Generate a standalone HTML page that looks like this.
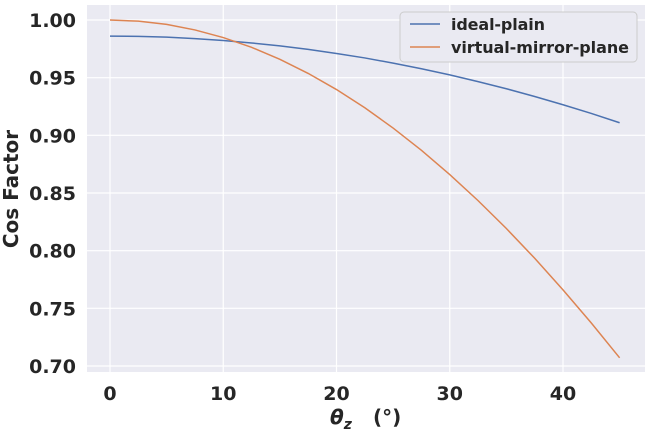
<!DOCTYPE html>
<html><head><meta charset="utf-8">
<style>
body{margin:0;background:#fff;}
svg{display:block;font-family:"DejaVu Sans","Liberation Sans",sans-serif;}
</style></head>
<body>
<svg id="chart" width="648" height="432" viewBox="0 0 648 432" xmlns="http://www.w3.org/2000/svg">
<rect x="87" y="5" width="558" height="367" fill="#eaeaf2"/>
<g id="grid"></g>
<g id="series"></g>
<g id="ticks"></g>
<text transform="translate(18,189) rotate(-90)" text-anchor="middle" font-size="20" font-weight="bold" fill="#262626">Cos Factor</text>
<text x="330" y="424" font-size="20" font-weight="bold" fill="#262626"><tspan font-style="italic">θ</tspan><tspan font-style="italic" font-size="14" dy="5">z</tspan><tspan dy="-5" x="373">(°)</tspan></text>
<g>
<rect x="400" y="12" width="237" height="50" rx="4" fill="#eaeaf2" stroke="#cccccc" stroke-width="1"/>
<line x1="410" y1="24" x2="440" y2="24" stroke="#4c72b0" stroke-width="1.5"/>
<text x="451" y="30" font-size="16" font-weight="bold" fill="#262626" textLength="94">ideal-plain</text>
<line x1="410" y1="47" x2="440" y2="47" stroke="#dd8452" stroke-width="1.5"/>
<text x="451" y="53" font-size="16" font-weight="bold" fill="#262626" textLength="178">virtual-mirror-plane</text>
</g>
</svg>
<script>
const thetas=[0,2.5,5,7.5,10,12.5,15,17.5,20,22.5,25,27.5,30,32.5,35,37.5,40,42.5,45];
const idealPlain=[.986,.9858,.9851,.9839,.9822,.9801,.9776,.9745,.9710,.9671,.9626,.9577,.9524,.9466,.9404,.9337,.9265,.9190,.9109];
const virtualMirror=[1,.9990,.9962,.9914,.9848,.9763,.9659,.9537,.9397,.9239,.9063,.8870,.8660,.8434,.8192,.7934,.7660,.7373,.7071];
const xTicks=[0,10,20,30,40];
const yTicks=[0.70,0.75,0.80,0.85,0.90,0.95,1.00];
const NS="http://www.w3.org/2000/svg";
function xs(v){return 110+v*(563-110)/40;}
function ys(v){return 20+(1.0-v)*(366-20)/0.30;}
const grid=document.getElementById('grid'),ticks=document.getElementById('ticks'),series=document.getElementById('series');
xTicks.forEach(t=>{
const l=document.createElementNS(NS,'line');


l.setAttribute('x1',xs(t));l.setAttribute('x2',xs(t));l.setAttribute('y1',5);l.setAttribute('y2',372);
l.setAttribute('stroke','#fff');l.setAttribute('stroke-width','1.2');grid.appendChild(l);
const tx=document.createElementNS(NS,'text');


tx.setAttribute('x',xs(t));tx.setAttribute('y',400);tx.setAttribute('text-anchor','middle');
tx.setAttribute('font-size','19');tx.setAttribute('font-weight','bold');tx.setAttribute('fill','#262626');
tx.textContent=t;ticks.appendChild(tx);
});
yTicks.forEach(t=>{
const l=document.createElementNS(NS,'line');


l.setAttribute('x1',87);l.setAttribute('x2',645);l.setAttribute('y1',ys(t));l.setAttribute('y2',ys(t));
l.setAttribute('stroke','#fff');l.setAttribute('stroke-width','1.2');grid.appendChild(l);
const tx=document.createElementNS(NS,'text');


tx.setAttribute('x',76);tx.setAttribute('y',ys(t)+7);tx.setAttribute('text-anchor','end');
tx.setAttribute('font-size','19');tx.setAttribute('font-weight','bold');tx.setAttribute('fill','#262626');
tx.textContent=t.toFixed(2);ticks.appendChild(tx);
});
function drawLine(vals,color,name){
const p=document.createElementNS(NS,'polyline');


p.setAttribute('points',vals.map((v,i)=>xs(thetas[i])+','+ys(v)).join(' '));
p.setAttribute('fill','none');p.setAttribute('stroke',color);p.setAttribute('stroke-width','1.5');
series.appendChild(p);
}
drawLine(idealPlain,'#4c72b0','ideal-plain-line');
drawLine(virtualMirror,'#dd8452','virtual-mirror-plane-line');
</script>
</body></html>
